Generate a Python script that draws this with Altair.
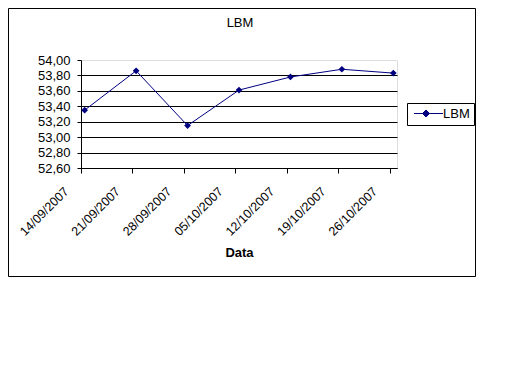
import altair as alt
import pandas as pd

# ---- data ----
dates = ["2007-09-14", "2007-09-21", "2007-09-28", "2007-10-05",
         "2007-10-12", "2007-10-19", "2007-10-26"]
values = [53.35, 53.86, 53.15, 53.61, 53.78, 53.88, 53.83]
series_name = "LBM"
y_ticks = [52.6, 52.8, 53.0, 53.2, 53.4, 53.6, 53.8, 54.0]

FONT = "Liberation Sans"
NAVY = "#000080"

# Excel date axis: points sit in the middle of their day slot
df = pd.DataFrame({
    "date": [d + "T12:00:00" for d in dates],
    "value": values,
    "series": [series_name] * len(values),
})

def dt(s):
    y, m, d = (int(p) for p in s.split("-"))
    return alt.DateTime(year=y, month=m, date=d)

x_ticks = [dt(d) for d in dates]
x_domain = [dt("2007-09-14"), dt("2007-10-27")]

x_enc = alt.X(
    "date:T",
    scale=alt.Scale(domain=x_domain),
    axis=alt.Axis(
        title="Data", values=x_ticks, format="%d/%m/%Y", formatType="time",
        labelAngle=-45, labelAlign="right", labelBaseline="middle",
        labelFont=FONT, labelFontSize=12.5, labelColor="black",
        labelPadding=16, labelOffset=-15,
        tickColor="black", tickSize=5, domainColor="black", grid=False,
        titleFont=FONT, titleFontSize=13, titleFontWeight="bold",
        titleColor="black", titlePadding=9, labelOverlap=False,
    ),
)
y_enc = alt.Y(
    "value:Q",
    scale=alt.Scale(domain=[52.6, 54.0], nice=False, zero=False),
    axis=alt.Axis(
        title=None, values=y_ticks,
        labelExpr="replace(format(datum.value, '.2f'), '.', ',')",
        labelFont=FONT, labelFontSize=13, labelColor="black", labelPadding=7,
        tickColor="black", tickSize=4, domainColor="black",
        grid=True,
        gridColor={"condition": {"test": "datum.value >= 53.99", "value": "transparent"},
                   "value": "black"},
        gridOpacity=1, gridWidth=1,
    ),
)

base = alt.Chart(df)

line = base.mark_line(color=NAVY, strokeWidth=1).encode(x=x_enc, y=y_enc)

points = base.mark_point(shape="diamond", filled=True, size=45, opacity=1).encode(
    x=x_enc, y=y_enc,
    color=alt.Color(
        "series:N",
        scale=alt.Scale(range=[NAVY]),
        legend=alt.Legend(
            title=None, orient="none", legendX=326, legendY=43,
            strokeColor="black", padding=4,
            symbolType="M-0.64,0L4.64,0M1.55,-0.64L2.19,0L1.55,0.64L0.91,0Z",
            symbolSize=121, symbolStrokeColor=NAVY, symbolStrokeWidth=1,
            symbolFillColor=NAVY,
            labelFont=FONT, labelFontSize=13, labelColor="black", labelOffset=19,
        ),
    ),
)

frame = alt.Chart(alt.Data(values=[{}])).mark_rect(
    fill="transparent", stroke="black", strokeWidth=1
).encode(
    x=alt.value(-72.5), x2=alt.value(394.5),
    y=alt.value(-51.5), y2=alt.value(216.5),
)

chart = alt.layer(frame, line, points).properties(
    width=316, height=108,
    title=alt.TitleParams("LBM", font=FONT, fontSize=13, fontWeight="normal",
                          color="black", offset=-35, anchor="middle",
                          frame="group", baseline="bottom", dx=1),
    autosize=alt.AutoSizeParams(type="none"),
    padding={"left": 73, "top": 52, "right": 84, "bottom": 112},
).configure_view(
    stroke="#808080", strokeDash=[1, 1], strokeWidth=1
).configure(background="white")

chart.save("out.html", embed_options={"renderer": "svg", "actions": False})
